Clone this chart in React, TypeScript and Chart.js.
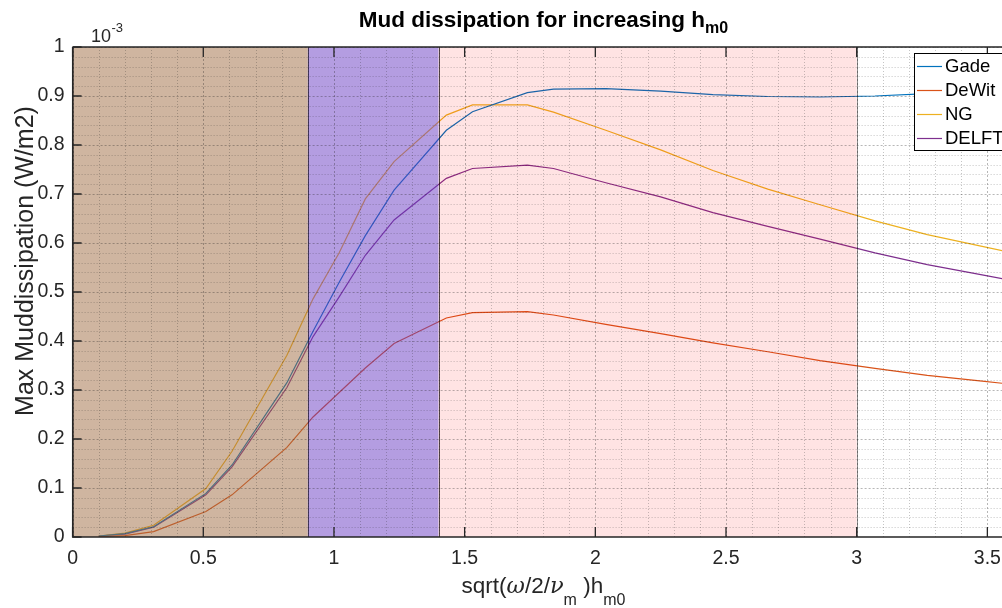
import React, { useEffect, useRef } from "react";
import { Chart, registerables } from "chart.js";
Chart.register(...registerables);

// ---- data (values in units of 1e-3 W/m2) ----
const xValues = [0.1, 0.2, 0.31, 0.51, 0.61, 0.82, 0.92, 1.02, 1.12, 1.23, 1.43, 1.53, 1.74, 1.84, 2.04, 2.25, 2.45, 2.66, 2.86, 3.07, 3.27, 3.48, 3.68];
const gade = [0.002, 0.007, 0.021, 0.089, 0.147, 0.315, 0.42, 0.52, 0.615, 0.708, 0.83, 0.868, 0.907, 0.914, 0.915, 0.91, 0.903, 0.899, 0.898, 0.9, 0.905, 0.911, 0.918];
const dewit = [0.001, 0.003, 0.011, 0.052, 0.086, 0.183, 0.245, 0.295, 0.345, 0.395, 0.447, 0.458, 0.46, 0.453, 0.434, 0.415, 0.396, 0.378, 0.36, 0.344, 0.33, 0.318, 0.307];
const ng = [0.002, 0.008, 0.024, 0.099, 0.175, 0.371, 0.486, 0.58, 0.69, 0.766, 0.861, 0.882, 0.882, 0.867, 0.83, 0.79, 0.748, 0.71, 0.678, 0.645, 0.617, 0.593, 0.57];
const delft = [0.002, 0.006, 0.02, 0.086, 0.143, 0.305, 0.409, 0.49, 0.575, 0.647, 0.732, 0.752, 0.759, 0.752, 0.723, 0.694, 0.662, 0.634, 0.608, 0.58, 0.556, 0.535, 0.515];
const seriesNames = ["Gade", "DeWit", "NG", "DELFT"];
const seriesColors = ["rgb(0,114,189)", "rgb(217,83,25)", "rgb(237,177,32)", "rgb(126,47,142)"];

// shaded regimes
const regionStart = [0, 0.9, 1.4];
const regionEnd = [0.9, 1.4, 3.0];
const regionFill = ["rgba(159,107,65,0.5)", "rgba(105,59,195,0.5)", "rgba(255,0,0,0.11)"];

const xTickValues = [0, 0.5, 1, 1.5, 2, 2.5, 3, 3.5];
const yTickValues = [0, 0.1, 0.2, 0.3, 0.4, 0.5, 0.6, 0.7, 0.8, 0.9, 1];

const X_MAX = 3.556;
const FONT = "'Liberation Sans', Arial, Helvetica, sans-serif";
const AXIS_COLOR = "#262626";

const decorPlugin = {
  id: "matlabDecor",
  afterDatasetsDraw(chart: any) {
    const ctx = chart.ctx as CanvasRenderingContext2D;
    const area = chart.chartArea;
    const xs = chart.scales.x;
    const ys = chart.scales.y;
    ctx.save();
    ctx.beginPath();
    ctx.rect(area.left, area.top, area.right - area.left, area.bottom - area.top);
    ctx.clip();
    // patches over lines (semi-transparent)
    for (let i = 0; i < regionStart.length; i++) {
      const x0 = xs.getPixelForValue(regionStart[i]);
      const x1 = xs.getPixelForValue(regionEnd[i]);
      const y0 = ys.getPixelForValue(1);
      const y1 = ys.getPixelForValue(0);
      ctx.fillStyle = regionFill[i];
      ctx.fillRect(x0, y0, x1 - x0, y1 - y0);
      ctx.strokeStyle = "rgba(0,0,0,0.45)";
      ctx.lineWidth = 1;
      ctx.beginPath();
      ctx.moveTo(Math.round(x0) + 0.5, y0);
      ctx.lineTo(Math.round(x0) + 0.5, y1);
      ctx.moveTo(Math.round(x1) + 0.5, y0);
      ctx.lineTo(Math.round(x1) + 0.5, y1);
      ctx.stroke();
    }
    // grid (minor + major, dotted)
    ctx.lineWidth = 1;
    for (let i = 0; i <= 40; i++) {
      const v = i / 10;
      if (v > X_MAX) break;
      const px = Math.round(xs.getPixelForValue(v)) + 0.5;
      const major = i % 5 === 0;
      ctx.strokeStyle = major ? "rgba(30,30,30,0.32)" : "rgba(30,30,30,0.26)";
      ctx.setLineDash(major ? [2, 2] : [1, 2]);
      ctx.beginPath();
      ctx.moveTo(px, area.top);
      ctx.lineTo(px, area.bottom);
      ctx.stroke();
    }
    for (let i = 0; i <= 50; i++) {
      const v = i / 50;
      const py = Math.round(ys.getPixelForValue(v)) + 0.5;
      const major = i % 5 === 0;
      ctx.strokeStyle = major ? "rgba(30,30,30,0.32)" : "rgba(30,30,30,0.26)";
      ctx.setLineDash(major ? [2, 2] : [1, 2]);
      ctx.beginPath();
      ctx.moveTo(area.left, py);
      ctx.lineTo(area.right, py);
      ctx.stroke();
    }
    ctx.setLineDash([]);
    ctx.restore();

    // axes box and inward ticks
    ctx.save();
    ctx.strokeStyle = AXIS_COLOR;
    ctx.lineWidth = 1.3;
    ctx.beginPath();
    ctx.moveTo(area.left, area.top);
    ctx.lineTo(area.right, area.top);
    ctx.moveTo(area.left, area.top);
    ctx.lineTo(area.left, area.bottom);
    ctx.lineTo(area.right, area.bottom);
    ctx.stroke();
    ctx.lineWidth = 1.3;
    ctx.beginPath();
    for (const v of xTickValues) {
      const px = xs.getPixelForValue(v);
      ctx.moveTo(px, area.bottom);
      ctx.lineTo(px, area.bottom - 10);
      ctx.moveTo(px, area.top);
      ctx.lineTo(px, area.top + 10);
    }
    for (const v of yTickValues) {
      const py = ys.getPixelForValue(v);
      ctx.moveTo(area.left, py);
      ctx.lineTo(area.left + 9, py);
    }
    ctx.stroke();
    ctx.restore();

    // legend
    ctx.save();
    const lx = 914, ly = 53, lw = 120, lh = 97;
    ctx.fillStyle = "#ffffff";
    ctx.fillRect(lx, ly, lw, lh);
    ctx.strokeStyle = "#000000";
    ctx.lineWidth = 1;
    ctx.strokeRect(lx + 0.5, ly + 0.5, lw, lh);
    ctx.font = `18.5px ${FONT}`;
    ctx.textBaseline = "middle";
    ctx.textAlign = "left";
    for (let i = 0; i < seriesNames.length; i++) {
      const y = 66 + i * 24;
      ctx.strokeStyle = seriesColors[i];
      ctx.lineWidth = 1.2;
      ctx.beginPath();
      ctx.moveTo(917, y + 0.5);
      ctx.lineTo(942, y + 0.5);
      ctx.stroke();
      ctx.fillStyle = "#000000";
      ctx.fillText(seriesNames[i], 945, y + 1);
    }
    ctx.restore();
  },
  afterDraw(chart: any) {
    const ctx = chart.ctx as CanvasRenderingContext2D;
    ctx.save();
    ctx.fillStyle = "#000000";
    ctx.textBaseline = "alphabetic";
    ctx.textAlign = "left";
    const centerX = 543.5;

    // title with subscript
    const tMain = "Mud dissipation for increasing h";
    const tSub = "m0";
    ctx.font = `bold 22.5px ${FONT}`;
    const w1 = ctx.measureText(tMain).width;
    ctx.font = `bold 16px ${FONT}`;
    const w2 = ctx.measureText(tSub).width;
    const tx = centerX - (w1 + w2) / 2;
    ctx.font = `bold 22.5px ${FONT}`;
    ctx.fillText(tMain, tx, 27);
    ctx.font = `bold 16px ${FONT}`;
    ctx.fillText(tSub, tx + w1, 33);

    // exponent label
    ctx.fillStyle = AXIS_COLOR;
    ctx.font = `18px ${FONT}`;
    ctx.fillText("10", 91, 41.5);
    const w10 = ctx.measureText("10").width;
    ctx.font = `13px ${FONT}`;
    ctx.fillText("-3", 91 + w10 + 0.5, 31.5);

    // x label: sqrt(ω/2/ν_m )h_m0
    const parts: [string, string, number][] = [
      ["sqrt(", `22.5px ${FONT}`, 0],
      ["ω", `italic 22.5px 'DejaVu Serif', serif`, 0],
      ["/2/", `22.5px ${FONT}`, 0],
      ["ν", `italic 22.5px 'DejaVu Serif', serif`, 0],
      ["m", `16px ${FONT}`, 12],
      [" )h", `22.5px ${FONT}`, 0],
      ["m0", `16px ${FONT}`, 12],
    ];
    let total = 0;
    const widths: number[] = [];
    for (const [t, f] of parts) {
      ctx.font = f;
      const w = ctx.measureText(t).width;
      widths.push(w);
      total += w;
    }
    let cx = centerX - total / 2;
    for (let i = 0; i < parts.length; i++) {
      ctx.font = parts[i][1];
      ctx.fillText(parts[i][0], cx, 593 + parts[i][2]);
      cx += widths[i];
    }

    // y label
    ctx.save();
    ctx.translate(33, 261);
    ctx.rotate(-Math.PI / 2);
    ctx.font = `25px ${FONT}`;
    ctx.textAlign = "center";
    ctx.fillText("Max Muddissipation (W/m2)", 0, 0);
    ctx.restore();
    ctx.restore();
  },
};

export default function App() {
  const canvasRef = useRef<HTMLCanvasElement | null>(null);

  useEffect(() => {
    document.body.style.margin = "0";
    document.body.style.overflow = "hidden";
    const canvas = canvasRef.current;
    if (!canvas) return;
    const series = [gade, dewit, ng, delft];
    const chart = new Chart(canvas, {
      type: "line",
      data: {
        datasets: series.map((vals, i) => ({
          label: seriesNames[i],
          data: xValues.map((x, j) => ({ x, y: vals[j] })),
          borderColor: seriesColors[i],
          backgroundColor: seriesColors[i],
          borderWidth: 1.2,
          pointRadius: 0,
          tension: 0,
          fill: false,
        })),
      },
      options: {
        responsive: false,
        animation: false,
        devicePixelRatio: 1,
        layout: { padding: { top: 47, left: 0, right: 0, bottom: 0 } },
        plugins: {
          legend: { display: false },
          title: { display: false },
          tooltip: { enabled: false },
        },
        scales: {
          x: {
            type: "linear",
            min: 0,
            max: X_MAX,
            grid: { display: false, drawTicks: false },
            border: { display: false },
            ticks: {
              stepSize: 0.5,
              includeBounds: false,
              autoSkip: false,
              maxRotation: 0,
              padding: 10,
              color: AXIS_COLOR,
              font: { family: FONT, size: 19.5 },
              callback: (v: any) => String(Math.round(Number(v) * 10) / 10),
            },
            afterFit: (s: any) => {
              s.height = 71;
              s.paddingLeft = 0;
              s.paddingRight = 0;
            },
          },
          y: {
            type: "linear",
            min: 0,
            max: 1,
            grid: { display: false, drawTicks: false },
            border: { display: false },
            ticks: {
              stepSize: 0.1,
              autoSkip: false,
              padding: 8,
              color: AXIS_COLOR,
              font: { family: FONT, size: 19.5 },
              callback: (v: any) => String(Math.round(Number(v) * 10) / 10),
            },
            afterFit: (s: any) => {
              s.width = 72.6;
              s.paddingTop = 0;
              s.paddingBottom = 0;
            },
          },
        },
      },
      plugins: [decorPlugin],
    });
    return () => chart.destroy();
  }, []);

  return (
    <div style={{ width: 1002, height: 608, overflow: "hidden" }}>
      <canvas ref={canvasRef} width={1002} height={608} style={{ display: "block" }} />
    </div>
  );
}
